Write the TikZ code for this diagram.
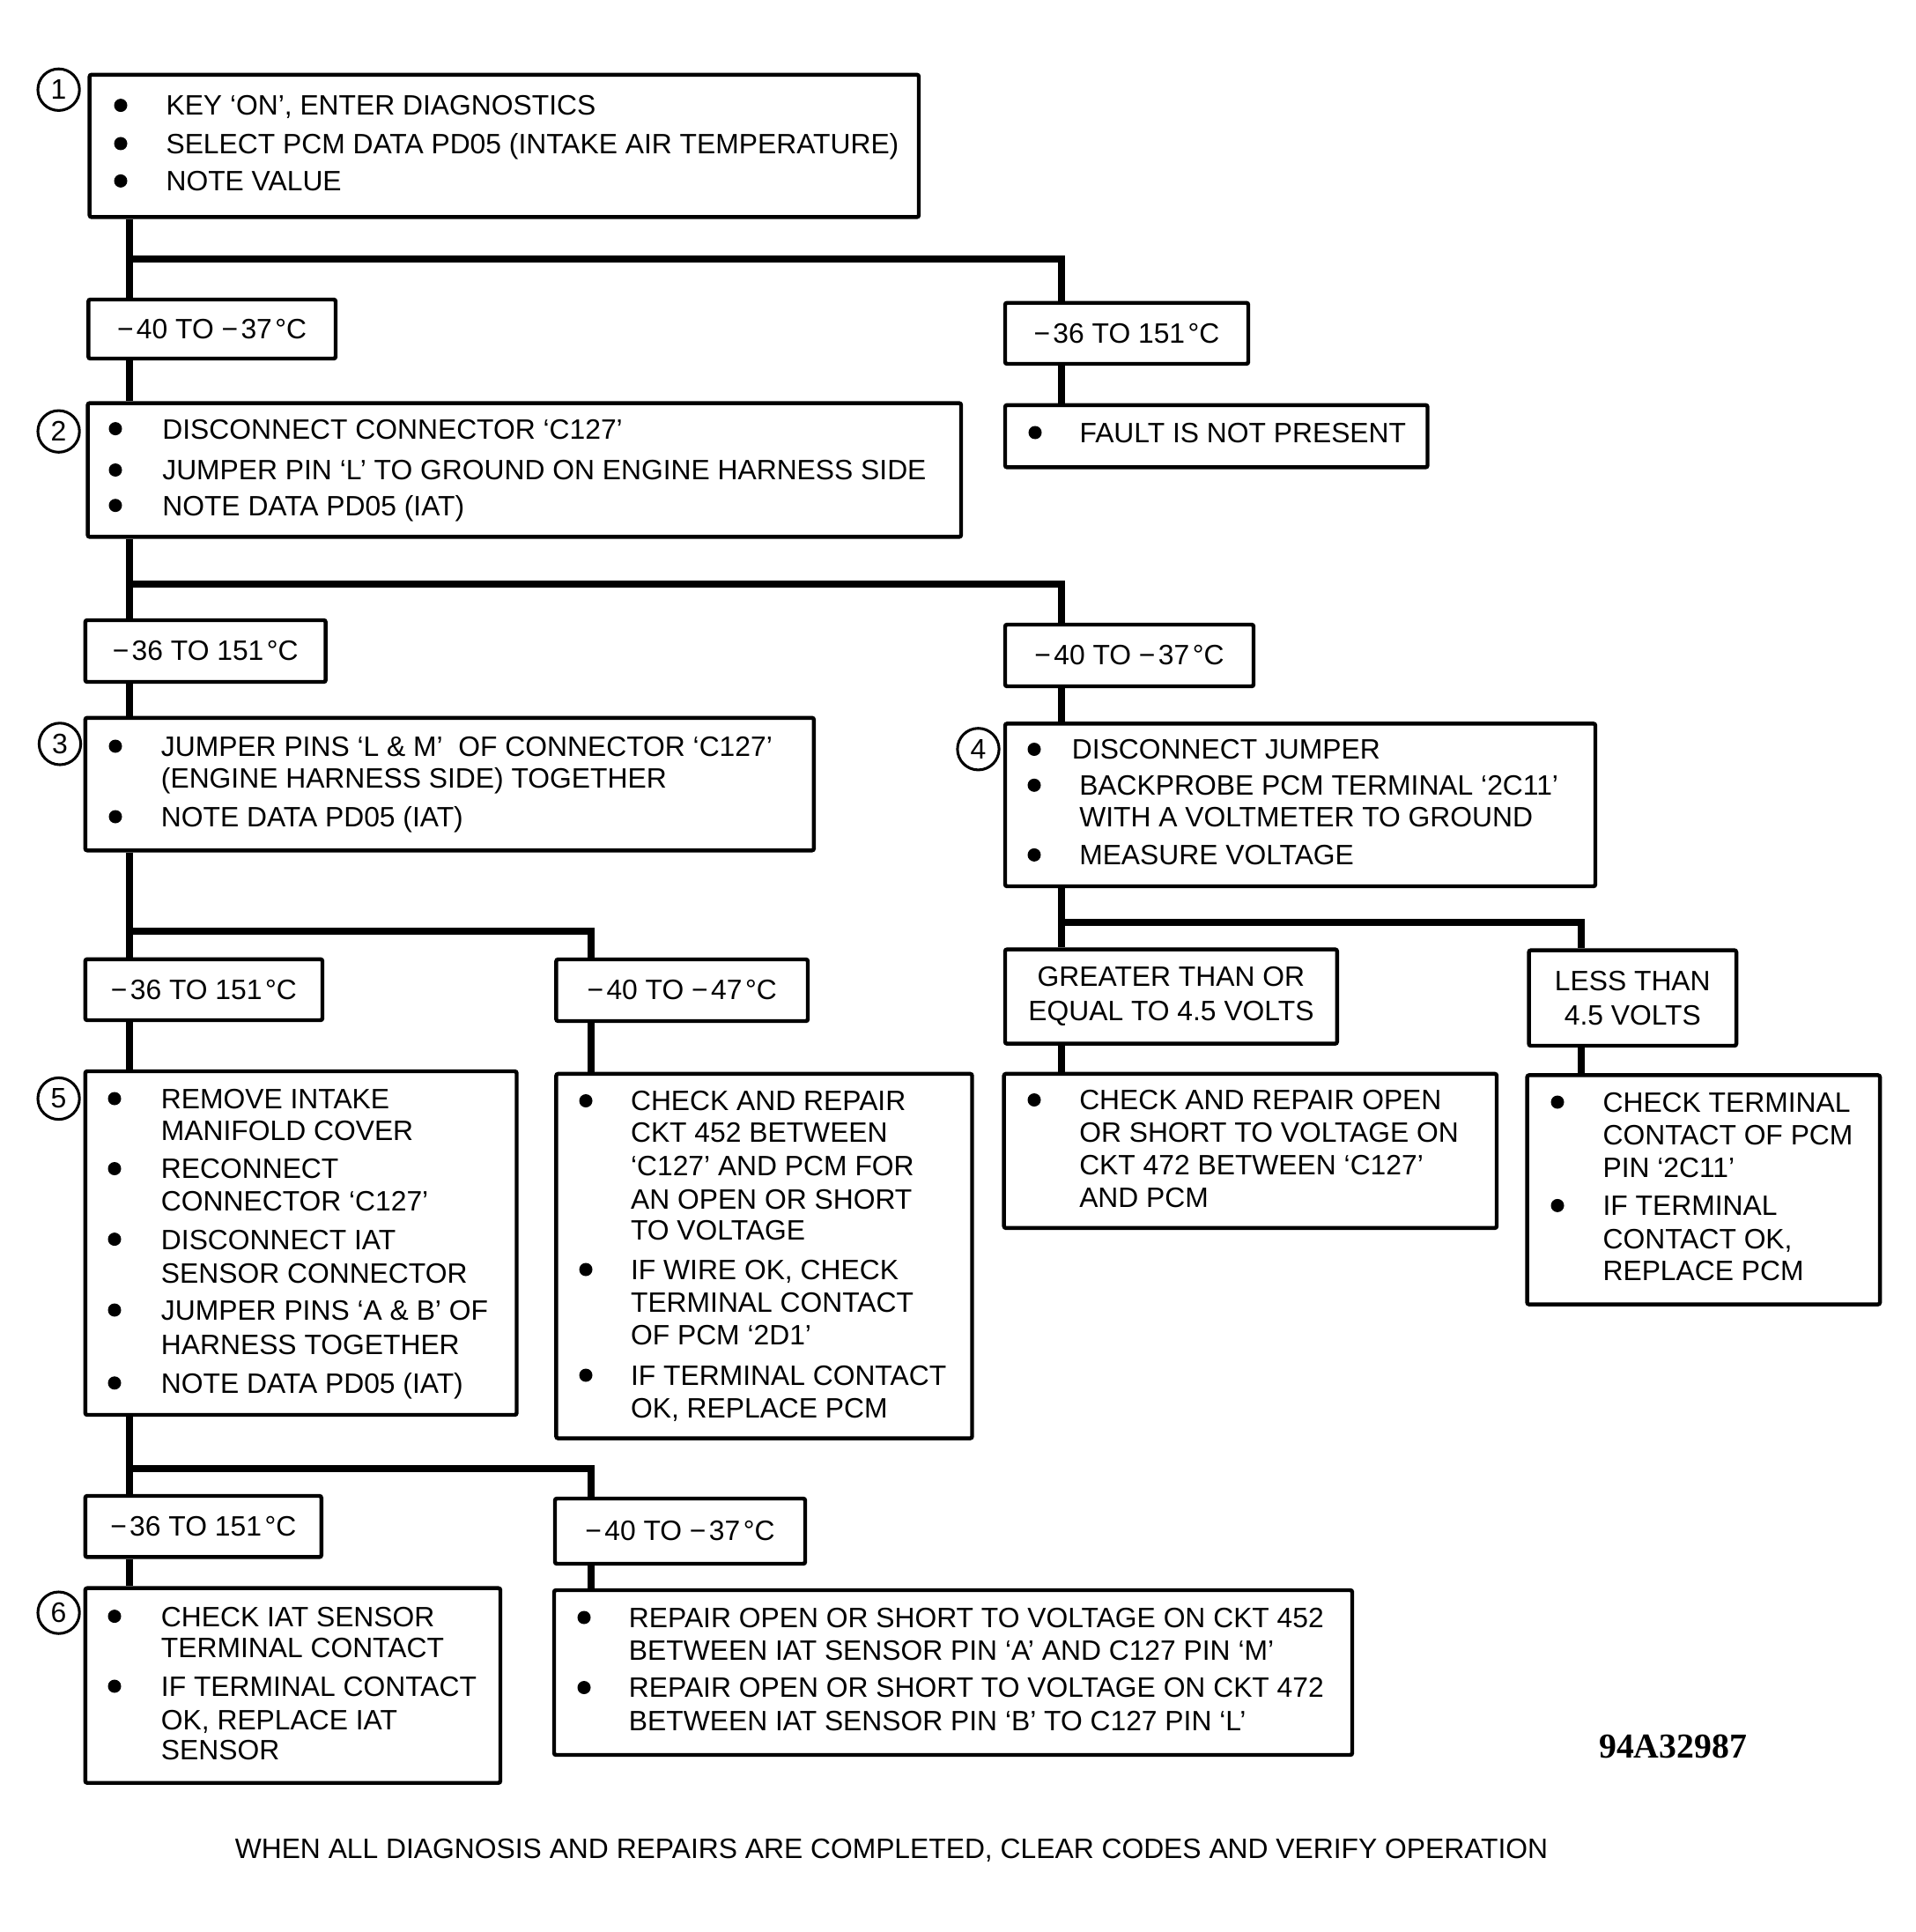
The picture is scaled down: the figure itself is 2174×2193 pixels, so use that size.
\documentclass[tikz,border=0pt]{standalone}
\usepackage{fontspec}
\setmainfont{Liberation Sans}
\newfontfamily\codefont{Liberation Serif}
\newcommand\txtfont{\fontsize{11.45}{13.3}\selectfont}
\newcommand\dgC{\kern1.3pt°C}
\newcommand\mn{−\kern1.2pt}
\newcounter{tn}
\tikzset{
  boxst/.style={draw, line width=1.6pt, rounded corners=0.8pt, inner sep=0pt, font=\txtfont},
  lbl/.style={boxst, align=center},
  conn/.style={line width=2.9pt},
  numc/.style={circle, draw, line width=1.1pt, minimum size=17pt, inner sep=0pt, font=\fontsize{11.5}{12}\selectfont},
  txt/.style={inner sep=0pt, font=\txtfont, anchor=base west},
}
\newcommand\tl[3]{\stepcounter{tn}\node[txt] (t\arabic{tn}) at (#1,{#2+11.4}) {#3};}
\newcommand\bul[2]{\fill (#1,#2) circle (2.7pt);}
\newcommand\bxn[5]{\node[boxst, minimum width={(#4-#2)*0.36pt}, minimum height={(#5-#3)*0.36pt}] (#1) at ({(#2+#4)/2},{(#3+#5)/2}) {};}
\newcommand\lbn[6]{\node[lbl, minimum width={(#4-#2)*0.36pt}, minimum height={(#5-#3)*0.36pt}] (#1) at ({(#2+#4)/2},{(#3+#5)/2}) {#6};}
\begin{document}
\begin{tikzpicture}[x=0.36pt, y=-0.36pt]
\useasboundingbox (0,0) rectangle (2174,2193);

% ---------- boxes ----------
\bxn{b1}{101.7}{84.8}{1043}{246.4}
\bxn{bF}{1141}{459.8}{1620.5}{530.4}
\bxn{b2}{99.6}{457.6}{1091}{609.4}
\bxn{b3}{96.8}{814.8}{923.9}{965.3}
\bxn{b4}{1141}{821.4}{1811}{1006}
\bxn{b5}{96.8}{1216}{586.5}{1606}
\bxn{b7}{631.4}{1218.9}{1103.5}{1632.6}
\bxn{b8}{1139.7}{1218.9}{1699}{1393.9}
\bxn{b9}{1733.6}{1220.4}{2134}{1480.6}
\bxn{b6}{96.8}{1802.7}{568}{2023.7}
\bxn{b10}{629}{1805}{1535}{1992}

% ---------- condition labels ----------
\lbn{a1}{100.3}{340}{381}{407}{\mn40 TO \mn37\dgC}
\lbn{r1}{1141}{343.75}{1417}{413}{\mn36 TO 151\dgC}
\lbn{a2}{96.8}{704}{369.7}{774}{\mn36 TO 151\dgC}
\lbn{r2}{1141}{709}{1423}{779}{\mn40 TO \mn37\dgC}
\lbn{a3}{96.8}{1088.8}{366}{1158}{\mn36 TO 151\dgC}
\lbn{m3}{631.4}{1089}{917}{1159}{\mn40 TO \mn47\dgC}
\lbn{g4}{1141}{1077.6}{1517.8}{1184.7}{GREATER THAN OR\\[0.6pt]EQUAL TO 4.5 VOLTS}
\lbn{l4}{1735.6}{1078.6}{1971}{1187}{LESS THAN\\[0.6pt]4.5 VOLTS}
\lbn{a5}{96.8}{1698}{364.8}{1767.4}{\mn36 TO 151\dgC}
\lbn{m5}{630}{1701}{914}{1775}{\mn40 TO \mn37\dgC}

% ---------- step numbers ----------
\node[numc] (n1) at (66.6,101.8) {1};
\node[numc] (n2) at (66.6,489.7) {2};
\node[numc] (n3) at (68,844.4) {3};
\node[numc] (n4) at (1110.5,850.3) {4};
\node[numc] (n5) at (66.6,1247) {5};
\node[numc] (n6) at (66.6,1830.6) {6};

% ---------- connectors ----------
\coordinate (cL) at (147,0);
\coordinate (cM) at (671,0);
\coordinate (cR) at (1205,0);
\coordinate (cS) at (1795,0);
\coordinate (j1) at (147,294);  \coordinate (k1) at (1205,294);
\coordinate (j2) at (147,663);  \coordinate (k2) at (1205,663);
\coordinate (j3) at (147,1057); \coordinate (k3) at (671,1057);
\coordinate (j4) at (1205,1047);\coordinate (k4) at (1795,1047);
\coordinate (j5) at (147,1667); \coordinate (k5) at (671,1667);

\draw[conn] (b1.south -| cL) -- (a1.north -| cL);
\draw[conn] (j1) -- (k1) -- (r1.north -| cR);
\draw[conn] (r1.south -| cR) -- (bF.north -| cR);
\draw[conn] (a1.south -| cL) -- (b2.north -| cL);

\draw[conn] (b2.south -| cL) -- (a2.north -| cL);
\draw[conn] (j2) -- (k2) -- (r2.north -| cR);
\draw[conn] (a2.south -| cL) -- (b3.north -| cL);
\draw[conn] (r2.south -| cR) -- (b4.north -| cR);

\draw[conn] (b3.south -| cL) -- (a3.north -| cL);
\draw[conn] (j3) -- (k3) -- (m3.north -| cM);
\draw[conn] (a3.south -| cL) -- (b5.north -| cL);
\draw[conn] (m3.south -| cM) -- (b7.north -| cM);

\draw[conn] (b4.south -| cR) -- (g4.north -| cR);
\draw[conn] (j4) -- (k4) -- (l4.north -| cS);
\draw[conn] (g4.south -| cR) -- (b8.north -| cR);
\draw[conn] (l4.south -| cS) -- (b9.north -| cS);

\draw[conn] (b5.south -| cL) -- (a5.north -| cL);
\draw[conn] (j5) -- (k5) -- (m5.north -| cM);
\draw[conn] (a5.south -| cL) -- (b6.north -| cL);
\draw[conn] (m5.south -| cM) -- (b10.north -| cM);

% ---------- box 1 ----------
\bul{137}{119.6}\tl{188}{119.6}{KEY ‘ON’, ENTER DIAGNOSTICS}
\bul{137}{163}\tl{188}{163}{SELECT PCM DATA PD05 (INTAKE AIR TEMPERATURE)}
\bul{137}{205.4}\tl{188}{205.4}{NOTE VALUE}
% ---------- fault ----------
\bul{1175}{491}\tl{1225}{491}{FAULT IS NOT PRESENT}
% ---------- box 2 ----------
\bul{131}{486.6}\tl{183.8}{486.6}{DISCONNECT CONNECTOR ‘C127’}
\bul{131}{533.5}\tl{183.8}{533.5}{JUMPER PIN ‘L’ TO GROUND ON ENGINE HARNESS SIDE}
\bul{131}{573.7}\tl{183.8}{573.7}{NOTE DATA PD05 (IAT)}
% ---------- box 3 ----------
\bul{131}{847}\tl{182.4}{847}{JUMPER PINS ‘L \& M’\ \ OF CONNECTOR ‘C127’}
\tl{182.4}{882.7}{(ENGINE HARNESS SIDE) TOGETHER}
\bul{131}{927}\tl{182.4}{927}{NOTE DATA PD05 (IAT)}
% ---------- box 4 ----------
\bul{1174}{850.5}\tl{1216.4}{850.5}{DISCONNECT JUMPER}
\bul{1174}{891.3}\tl{1224.7}{891.3}{BACKPROBE PCM TERMINAL ‘2C11’}
\tl{1224.7}{927}{WITH A VOLTMETER TO GROUND}
\bul{1174}{970.4}\tl{1224.7}{970.4}{MEASURE VOLTAGE}
% ---------- box 5 ----------
\bul{130}{1247}\tl{182.4}{1247}{REMOVE INTAKE}
\tl{182.4}{1282.6}{MANIFOLD COVER}
\bul{130}{1326.5}\tl{182.4}{1326.5}{RECONNECT}
\tl{182.4}{1363}{CONNECTOR ‘C127’}
\bul{130}{1406.6}\tl{182.4}{1406.6}{DISCONNECT IAT}
\tl{182.4}{1444.9}{SENSOR CONNECTOR}
\bul{130}{1487}\tl{182.4}{1487}{JUMPER PINS ‘A \& B’ OF}
\tl{182.4}{1526.5}{HARNESS TOGETHER}
\bul{130}{1569.8}\tl{182.4}{1569.8}{NOTE DATA PD05 (IAT)}
% ---------- box 7 ----------
\bul{665}{1249.5}\tl{715.5}{1249.5}{CHECK AND REPAIR}
\tl{715.5}{1285}{CKT 452 BETWEEN}
\tl{715.5}{1323.5}{‘C127’ AND PCM FOR}
\tl{715.5}{1360.7}{AN OPEN OR SHORT}
\tl{715.5}{1396.4}{TO VOLTAGE}
\bul{665}{1441}\tl{715.5}{1441}{IF WIRE OK, CHECK}
\tl{715.5}{1478}{TERMINAL CONTACT}
\tl{715.5}{1515.5}{OF PCM ‘2D1’}
\bul{665}{1561}\tl{715.5}{1561}{IF TERMINAL CONTACT}
\tl{715.5}{1598}{OK, REPLACE PCM}
% ---------- box 8 ----------
\bul{1174}{1248.5}\tl{1224.7}{1248.5}{CHECK AND REPAIR OPEN}
\tl{1224.7}{1285}{OR SHORT TO VOLTAGE ON}
\tl{1224.7}{1322.4}{CKT 472 BETWEEN ‘C127’}
\tl{1224.7}{1359}{AND PCM}
% ---------- box 9 ----------
\bul{1768}{1251}\tl{1819}{1251}{CHECK TERMINAL}
\tl{1819}{1287.7}{CONTACT OF PCM}
\tl{1819}{1325}{PIN ‘2C11’}
\bul{1768}{1368.4}\tl{1819}{1368.4}{IF TERMINAL}
\tl{1819}{1405.6}{CONTACT OK,}
\tl{1819}{1442.3}{REPLACE PCM}
% ---------- box 6 ----------
\bul{130}{1834.6}\tl{182.4}{1834.6}{CHECK IAT SENSOR}
\tl{182.4}{1870.4}{TERMINAL CONTACT}
\bul{130}{1914}\tl{182.4}{1914}{IF TERMINAL CONTACT}
\tl{182.4}{1951.7}{OK, REPLACE IAT}
\tl{182.4}{1986}{SENSOR}
% ---------- box 10 ----------
\bul{663}{1836}\tl{713.4}{1836}{REPAIR OPEN OR SHORT TO VOLTAGE ON CKT 452}
\tl{713.4}{1873.5}{BETWEEN IAT SENSOR PIN ‘A’ AND C127 PIN ‘M’}
\bul{663}{1915.5}\tl{713.4}{1915.5}{REPAIR OPEN OR SHORT TO VOLTAGE ON CKT 472}
\tl{713.4}{1953}{BETWEEN IAT SENSOR PIN ‘B’ TO C127 PIN ‘L’}

% ---------- footer ----------
\node[inner sep=0pt, font=\codefont\bfseries\fontsize{14.3}{15}\selectfont] (code) at (1899,1982) {94A32987};
\node[inner sep=0pt, font=\txtfont] (note) at (1012,2100) {WHEN ALL DIAGNOSIS AND REPAIRS ARE COMPLETED, CLEAR CODES AND VERIFY OPERATION};
\end{tikzpicture}
\end{document}
